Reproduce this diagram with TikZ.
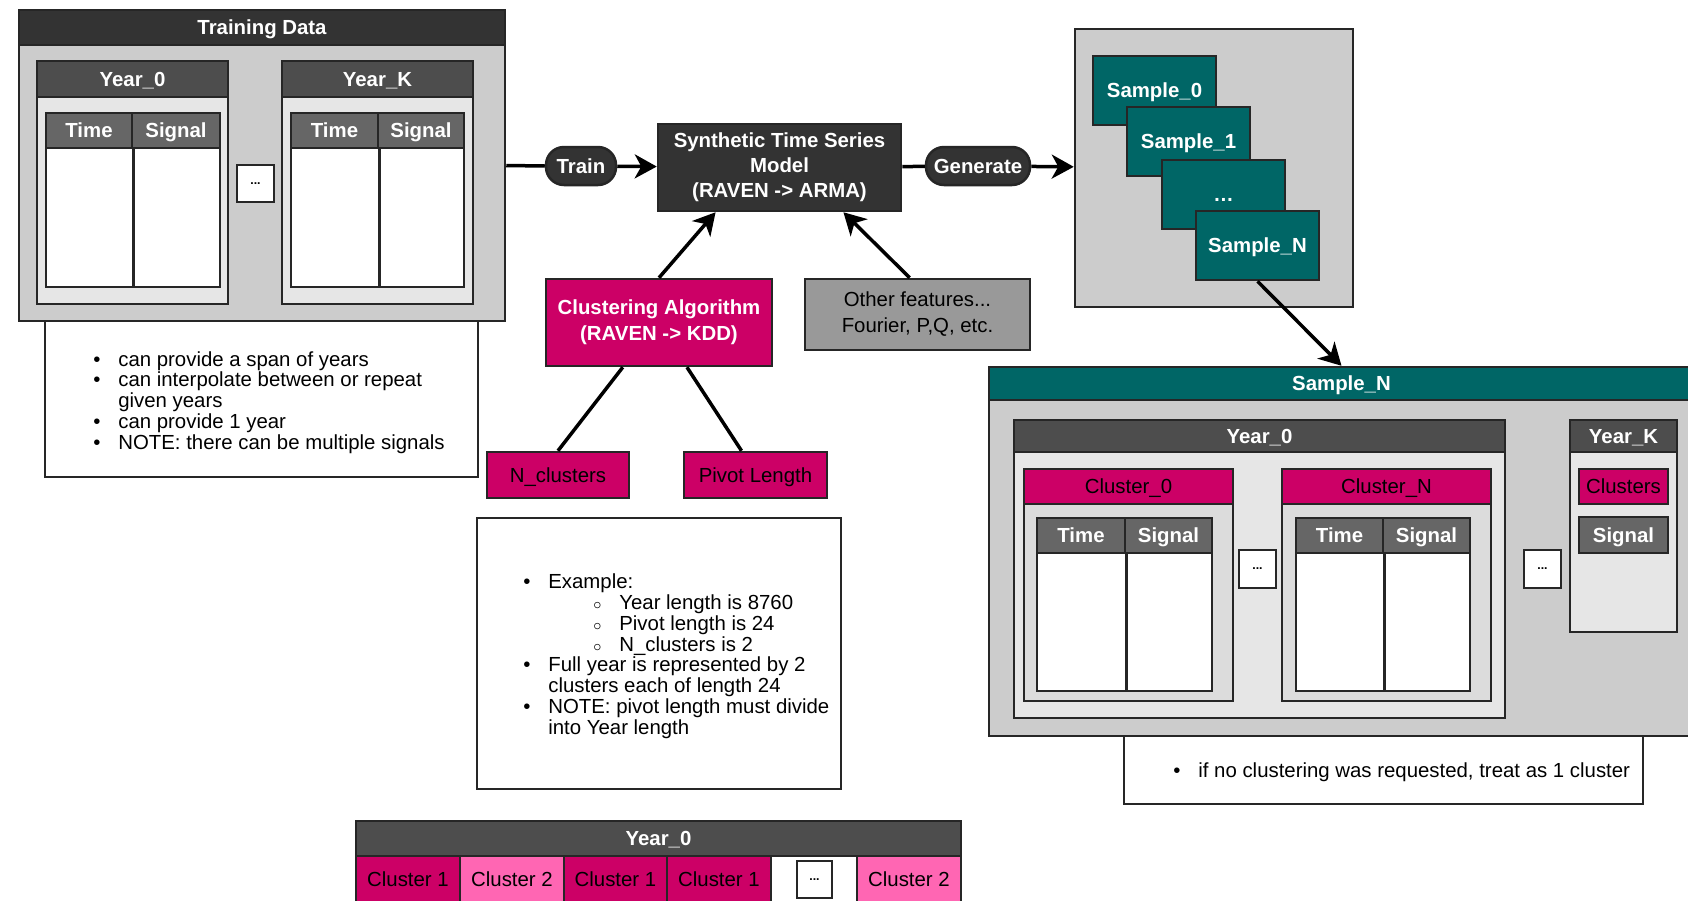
\documentclass[tikz,border=0pt]{standalone}
\usepackage{fontspec}
\setmainfont{Liberation Sans}
\usetikzlibrary{arrows.meta}
\definecolor{framegray}{HTML}{CCCCCC}
\definecolor{bodygray}{HTML}{E6E6E6}
\definecolor{clbody}{HTML}{DCDCDC}
\definecolor{darkhead}{HTML}{333333}
\definecolor{yearhead}{HTML}{4D4D4D}
\definecolor{colhead}{HTML}{666666}
\definecolor{featgray}{HTML}{999999}
\definecolor{sampleteal}{HTML}{006666}
\definecolor{clustmag}{HTML}{CC0066}
\definecolor{clustpink}{HTML}{FF66B3}
\newcommand{\bul}{\makebox[5mm][l]{\textbullet}}
\newcommand{\subbul}{\makebox[5.2mm][l]{\small$\circ$}}
\AtBeginDocument{\fontsize{11.6}{14}\selectfont}

\begin{document}
\begin{tikzpicture}[x=0.2mm, y=-0.2mm,
    bx/.style n args={4}{at={({(#1+#3)/2},{(#2+#4)/2})}, anchor=center,
        minimum width={(#3-#1)*0.2mm}, minimum height={(#4-#2)*0.2mm}},
    blk/.style={draw=black!85, line width=0.5mm, inner sep=0pt},
    one/.style={blk, text height=10.6pt, text depth=2.4pt},
    hdr/.style={one, fill=darkhead, text=white, font=\bfseries},
    yhd/.style={one, fill=yearhead, text=white, font=\bfseries},
    colhd/.style={one, fill=colhead, text=white, font=\bfseries},
    mag/.style={one, fill=clustmag},
    smp/.style={one, fill=sampleteal, text=white, font=\bfseries},
    pill/.style={hdr, rounded corners=3.6mm},
    dotbox/.style={blk, fill=white, font=\bfseries\scriptsize},
    notebox/.style={blk, fill=white},
    notetxt/.style={inner sep=0pt, anchor=base west, align=left, font=\fontsize{11.6}{11.8}\selectfont},
    conn/.style={line width=0.7mm},
    arr/.style={conn, -{Stealth[length=4.4mm, width=4.8mm, inset=1.3mm]}}]
    \useasboundingbox (0,0) rectangle (1688,900);
    \clip (0,0) rectangle (1688,900);

    % Training data and its note
    \node[notebox, bx={45}{321}{478}{477}] (note1) {};
    \node[blk, fill=framegray, bx={19}{10}{505}{321}] (td) {};
    \node[hdr, bx={19}{10}{505}{45}] (tdhead) {Training Data};
    \node[notetxt] (note1txt) at (93,449) {\bul can provide a span of years\\ \bul can interpolate between or repeat\\ \hspace*{5mm}given years\\ \bul can provide 1 year\\ \bul NOTE: there can be multiple signals};

    % Model, clustering and features
    \node[blk, fill=darkhead, text=white, align=center, font=\bfseries\fontsize{11.6}{14.2}\selectfont, bx={658}{124}{901}{211}] (model) {Synthetic Time Series\\Model\\(RAVEN -> ARMA)};
    \node[pill, bx={546}{147}{616}{185}] (train) {Train};
    \node[pill, bx={926}{147}{1030}{185}] (gen) {Generate};
    \node[blk, fill=clustmag, text=white, align=center, font=\bfseries\fontsize{11.6}{14.8}\selectfont, bx={546}{279}{772}{366}] (clust) {Clustering Algorithm\\(RAVEN -> KDD)};
    \node[blk, fill=featgray, align=center, font=\fontsize{11.6}{14.8}\selectfont, bx={805}{279}{1030}{350}] (feat) {Other features...\\Fourier, P,Q, etc.};
    \node[mag, bx={487}{452}{629}{498}] (ncl) {N\_clusters};
    \node[mag, bx={684}{452}{827}{498}] (pivot) {Pivot Length};
    \node[notebox, bx={477}{518}{841}{789}] (note2) {};
    \node[notetxt] (note2txt) at (523,734) {\bul Example:\\ \hspace*{14mm}\subbul Year length is 8760\\ \hspace*{14mm}\subbul Pivot length is 24\\ \hspace*{14mm}\subbul N\_clusters is 2\\ \bul Full year is represented by 2\\ \hspace*{5mm}clusters each of length 24\\ \bul NOTE: pivot length must divide\\ \hspace*{5mm}into Year length};

    % Generated samples
    \node[blk, fill=framegray, bx={1075}{29}{1353}{307}] (sframe) {};
    \foreach \a/\t/\txt [count=\i] in {1093/56/Sample\_0, 1127/107/Sample\_1, 1162/160/\ldots, 1196/211/Sample\_N}
        \node[smp, bx={\a}{\t}{\a+123}{\t+69}] (smp\i) {\txt};

    % Sample_N opened up
    \node[notebox, bx={1124}{736}{1643}{804}] (note3) {};
    \node[blk, fill=framegray, bx={989}{367}{1694}{736}] (sbig) {};
    \node[smp, bx={989}{367}{1694}{400}] (sbighead) {Sample\_N};
    \node[notetxt] (note3txt) at (1173,777) {\bul if no clustering was requested, treat as 1 cluster};

    % Year boxes
    \foreach \a/\b/\t/\u/\h/\n/\txt in {37/228/61/304/97/ty0/Year\_0, 282/473/61/304/97/tyk/Year\_K, 1014/1505/420/718/452/sy0/Year\_0, 1570/1677/420/632/452/syk/Year\_K} {
        \node[blk, fill=bodygray, bx={\a}{\t}{\b}{\u}] (\n) {};
        \node[yhd, bx={\a}{\t}{\b}{\h}] (\n head) {\txt};
    }
    \foreach \a/\b/\n/\txt in {1024/1233/cl0/Cluster\_0, 1282/1491/cln/Cluster\_N} {
        \node[blk, fill=clbody, bx={\a}{469}{\b}{701}] (\n) {};
        \node[mag, bx={\a}{469}{\b}{504}] (\n head) {\txt};
    }
    \node[mag, bx={1579}{469}{1668}{504}] (ykclus) {Clusters};
    \node[colhd, bx={1579}{517}{1668}{553}] (yksig) {Signal};

    % Time / Signal tables
    \foreach \a/\m/\b/\t/\h/\u [count=\i] in {46/132/220/113/148/287, 291/378/464/113/148/287, 1037/1125/1212/518/553/691, 1296/1383/1470/518/553/691} {
        \node[blk, fill=white, bx={\a}{\t}{\b}{\u}] (tab\i) {};
        \node[colhd, bx={\a}{\t}{\m}{\h}] (time\i) {Time};
        \node[colhd, bx={\m}{\t}{\b}{\h}] (sig\i) {Signal};
        \draw[blk] (time\i.south east) -- (time\i.east |- tab\i.south);
    }

    % Year strip at the bottom
    \node[yhd, bx={356}{821}{961}{856}] (striphead) {Year\_0};
    \foreach \a/\b/\c/\txt [count=\i] in {356/460/clustmag/Cluster 1, 460/564/clustpink/Cluster 2, 564/667/clustmag/Cluster 1, 667/771/clustmag/Cluster 1, 771/857/white/, 857/961/clustpink/Cluster 2}
        \node[one, fill=\c, bx={\a}{856}{\b}{902}] (cell\i) {\txt};

    % Ellipsis boxes
    \foreach \a/\t/\b/\u [count=\i] in {237/165/274/202, 1239/550/1276/588, 1524/550/1561/588, 797/861/832/898}
        \node[dotbox, bx={\a}{\t}{\b}{\u}] (dots\i) {...};

    % Connectors
    \draw[conn] (td.east) -- (train.west);
    \draw[arr] (train) -- (model);
    \draw[conn] (model) -- (gen);
    \draw[arr] (gen) -- (sframe);
    \draw[arr] (clust.north) -- (model.215);
    \draw[arr] (feat.102) -- (model.325);
    \draw[conn] (clust.231) -- (ncl.north);
    \draw[conn] (clust.302) -- (pivot.120);
    \draw[arr] (smp4.south) -- (sbig.north);
\end{tikzpicture}
\end{document}
